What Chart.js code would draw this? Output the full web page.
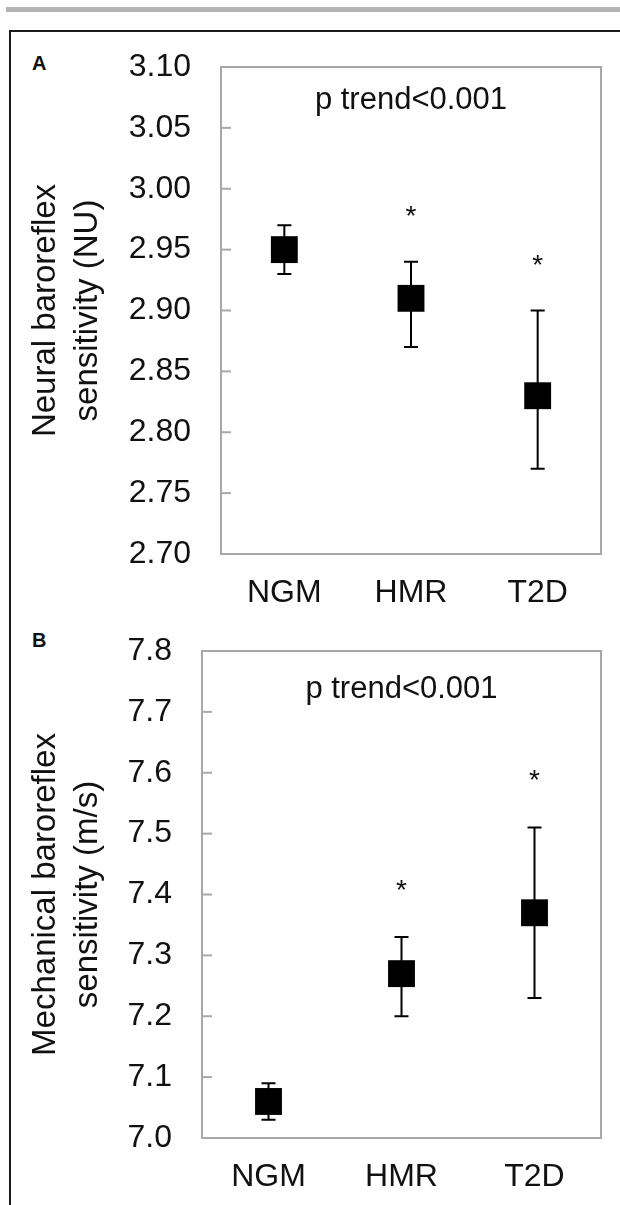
<!DOCTYPE html>
<html>
<head>
<meta charset="utf-8">
<script src="https://cdn.jsdelivr.net/npm/chart.js@4.4.1/dist/chart.umd.min.js"></script>
<style>
  body { margin:0; width:620px; height:1205px; background:#fff; position:relative; overflow:hidden; font-family:"Liberation Sans", Arial, sans-serif; }
  #topbar { position:absolute; left:6px; right:0; top:7px; height:5px; background:#b4b4b4; }
  #frame { position:absolute; left:9px; top:30px; width:700px; height:1300px; border:2px solid #1a1a1a; }
  .letter { position:absolute; font-weight:bold; font-size:20px; color:#111; line-height:20px; }
  .wrap { position:absolute; left:0; width:620px; height:580px; }
</style>
</head>
<body>
<div id="topbar"></div>
<div id="frame"></div>
<div class="letter" style="left:32px; top:53px;">A</div>
<div class="letter" style="left:32px; top:630px;">B</div>
<div class="wrap" style="top:40px;"><canvas id="chartA"></canvas></div>
<div class="wrap" style="top:625px;"><canvas id="chartB"></canvas></div>
<script>
    // ---- dados ----
    const groups = ['NGM', 'HMR', 'T2D'];

    // painel A: neural BRS (NU)
    const neuralMean = [2.95, 2.91, 2.83];
    const neuralLow  = [2.93, 2.87, 2.77];
    const neuralHigh = [2.97, 2.94, 2.90];
    const neuralStar = [null, 2.983, 2.943];
    const neuralTicks = [2.70, 2.75, 2.80, 2.85, 2.90, 2.95, 3.00, 3.05, 3.10];

    // painel B: mechanical BRS (m/s)
    const mechMean = [7.06, 7.27, 7.37];
    const mechLow  = [7.03, 7.20, 7.23];
    const mechHigh = [7.09, 7.33, 7.51];
    const mechStar = [null, 7.419, 7.60];
    const mechTicks = [7.0, 7.1, 7.2, 7.3, 7.4, 7.5, 7.6, 7.7, 7.8];

    const FONT = '"Liberation Sans", Arial, sans-serif';
    const INK = '#111';
    const FRAME = '#a8a8a8';

    // barras de erro, asteriscos, moldura e texto do p trend
    const extras = {
        id: 'extras',
        beforeDatasetsDraw(chart, args, o) {
            const { ctx, chartArea: a, scales: { x, y } } = chart;
            ctx.save();
            // moldura cinza
            ctx.strokeStyle = FRAME;
            ctx.lineWidth = 2;
            ctx.strokeRect(a.left, a.top, a.right - a.left, a.bottom - a.top);
            // ticks internos
            y.ticks.forEach(t => {
                const py = y.getPixelForValue(t.value);
                if (Math.abs(py - a.top) < 2 || Math.abs(py - a.bottom) < 2) return;
                ctx.beginPath();
                ctx.moveTo(a.left, py);
                ctx.lineTo(a.left + 10, py);
                ctx.stroke();
            });
            // barras de erro
            ctx.strokeStyle = '#000';
            ctx.lineWidth = 2;
            o.low.forEach((lo, i) => {
                const px = x.getPixelForValue(i);
                const pLo = y.getPixelForValue(lo);
                const pHi = y.getPixelForValue(o.high[i]);
                ctx.beginPath();
                ctx.moveTo(px, pLo); ctx.lineTo(px, pHi);
                ctx.moveTo(px - 7, pLo); ctx.lineTo(px + 7, pLo);
                ctx.moveTo(px - 7, pHi); ctx.lineTo(px + 7, pHi);
                ctx.stroke();
            });
            ctx.restore();
        },
        afterDatasetsDraw(chart, args, o) {
            const { ctx, chartArea: a, scales: { x, y } } = chart;
            ctx.save();
            ctx.fillStyle = INK;
            ctx.textAlign = 'center';
            // asteriscos
            ctx.font = '28px ' + FONT;
            ctx.textBaseline = 'alphabetic';
            o.stars.forEach((s, i) => {
                if (s == null) return;
                ctx.fillText('*', x.getPixelForValue(i), y.getPixelForValue(s) + 28 * 0.57);
            });
            // p trend
            ctx.font = '31px ' + FONT;
            ctx.textBaseline = 'middle';
            ctx.fillText(o.note, (a.left + a.right) / 2, a.top + o.noteOffset);
            ctx.restore();
        }
    };

    function makeChart(id, cfg) {
        return new Chart(document.getElementById(id), {
            type: 'line',
            data: {
                labels: groups,
                datasets: [{
                    data: cfg.mean,
                    showLine: false,
                    pointStyle: 'rect',
                    pointRadius: 19,
                    pointHoverRadius: 19,
                    pointBackgroundColor: '#000',
                    pointBorderColor: '#000',
                    pointBorderWidth: 0
                }]
            },
            options: {
                responsive: true,
                maintainAspectRatio: false,
                animation: false,
                events: [],
                layout: { padding: { top: cfg.padTop, right: 18, left: 0, bottom: 0 } },
                plugins: {
                    legend: { display: false },
                    tooltip: { enabled: false },
                    extras: {
                        low: cfg.low, high: cfg.high, stars: cfg.stars,
                        note: 'p trend<0.001', noteOffset: cfg.noteOffset
                    }
                },
                scales: {
                    x: {
                        offset: true,
                        grid: { display: false, drawTicks: false },
                        border: { display: false },
                        ticks: { color: INK, font: { family: FONT, size: 32 }, padding: 20, maxRotation: 0 },
                        afterFit: s => { s.height = cfg.xHeight; }
                    },
                    y: {
                        min: cfg.ticks[0],
                        max: cfg.ticks[cfg.ticks.length - 1],
                        grid: { display: false, drawTicks: false },
                        border: { display: false },
                        afterBuildTicks: s => { s.ticks = cfg.ticks.map(v => ({ value: v })); },
                        ticks: {
                            color: INK,
                            font: { family: FONT, size: 32 },
                            padding: 30,
                            callback: v => v.toFixed(cfg.digits)
                        },
                        title: {
                            display: true,
                            text: cfg.title,
                            color: INK,
                            font: { family: FONT, size: 33, lineHeight: 1.27 },
                            padding: { top: 25, bottom: 0 }
                        },
                        afterFit: s => {
                            s.width = cfg.yWidth;
                            // o padding dos ticks nao deve empurrar a area do grafico
                            s.paddingTop = 0;
                            s.paddingBottom = 0;
                        }
                    }
                }
            },
            plugins: [extras]
        });
    }

    makeChart('chartA', {
        mean: neuralMean, low: neuralLow, high: neuralHigh, stars: neuralStar,
        ticks: neuralTicks, digits: 2,
        title: ['Neural baroreflex', 'sensitivity (NU)'],
        padTop: 27, xHeight: 66, yWidth: 221, noteOffset: 33
    });

    makeChart('chartB', {
        mean: mechMean, low: mechLow, high: mechHigh, stars: mechStar,
        ticks: mechTicks, digits: 1,
        title: ['Mechanical baroreflex', 'sensitivity (m/s)'],
        padTop: 26, xHeight: 67, yWidth: 202, noteOffset: 38
    });
</script>
</body>
</html>
